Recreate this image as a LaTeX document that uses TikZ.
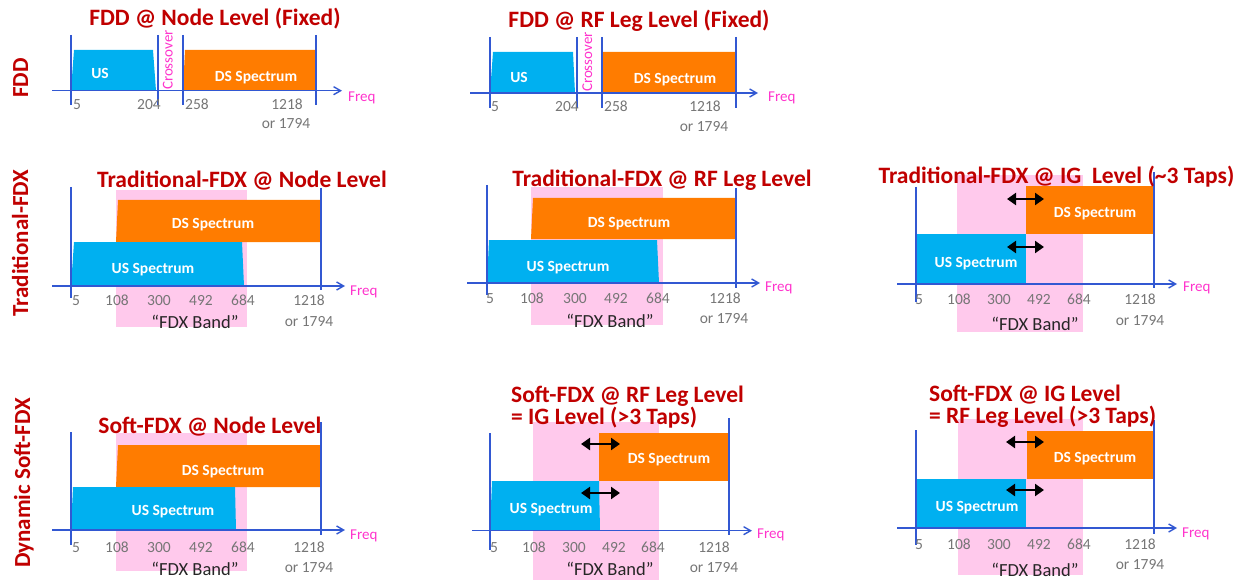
\documentclass[tikz,border=0pt]{standalone}
\usepackage{fontspec}
\setmainfont{Carlito}
\usetikzlibrary{arrows.meta}
\definecolor{ttlred}{RGB}{192,0,0}
\definecolor{axblue}{RGB}{50,88,210}
\definecolor{uscyan}{RGB}{0,176,240}
\definecolor{dsorange}{RGB}{255,124,0}
\definecolor{fdxpink}{RGB}{255,201,236}
\definecolor{tickgray}{RGB}{118,118,118}
\definecolor{freqmag}{RGB}{255,51,204}
\definecolor{fdxtext}{RGB}{38,38,38}
\begin{document}
\begin{tikzpicture}[x=1pt,y=-1pt,
  axisln/.style={axblue,line width=1.4pt,-{Straight Barb[length=7pt,width=8pt,line width=1.4pt]}},
  vline/.style={axblue,line width=1.4pt},
  usbox/.style={fill=uscyan},
  dsbox/.style={fill=dsorange},
  band/.style={fill=fdxpink},
  ttl/.style={font=\fontsize{23.5}{26}\selectfont\bfseries,text=ttlred,anchor=base,inner sep=0pt},
  ttl2/.style={font=\fontsize{23.5}{22}\selectfont\bfseries,text=ttlred,align=left,anchor=base west,inner sep=0pt},
  rowlbl/.style={font=\fontsize{23}{26}\selectfont\bfseries,text=ttlred,anchor=base,inner sep=0pt,rotate=90},
  tick/.style={font=\fontsize{15.5}{18}\selectfont,text=tickgray,anchor=base,inner sep=0pt},
  frq/.style={font=\fontsize{15}{18}\selectfont,text=freqmag,anchor=base west,inner sep=0pt},
  boxt/.style={font=\fontsize{15.5}{18}\selectfont\bfseries,text=white,anchor=base,inner sep=0pt},
  xover/.style={font=\fontsize{15}{18}\selectfont,text=freqmag,anchor=base,rotate=90,inner sep=0pt},
  fdxb/.style={font=\fontsize{18.5}{22}\selectfont,text=fdxtext,anchor=base,inner sep=0pt},
  dbl/.style={black,line width=2.6pt,{Triangle[length=9pt,width=12pt]}-{Triangle[length=9pt,width=12pt]}}
]
\useasboundingbox (0,0) rectangle (1244,580);

% ---------------- row labels ----------------
\node[rowlbl] (rowfdd) at (28,78) {FDD};
\node[rowlbl] (rowtrad) at (28,243) {Traditional-FDX};
\node[rowlbl] (rowsoft) at (30,483) {Dynamic Soft-FDX};

% ---------------- Panel 1: FDD @ Node ----------------
\fill[usbox] (71,90.7) -- (74,50) -- (153,50) -- (156,90.7) -- cycle;
\fill[dsbox] (183,90.7) -- (185,50) -- (315,50) -- (316,90.7) -- cycle;
\foreach \x [count=\i] in {71,158,183,316} {
  \coordinate (p1v\i a) at (\x,35); \coordinate (p1v\i b) at (\x,105);
  \draw[vline] (p1v\i a) -- (p1v\i b);}
\coordinate (p1a0) at (52,90.7); \coordinate (p1a1) at (342,90.7);
\draw[axisln] (p1a0) -- (p1a1);
\node[ttl] (p1title) at (215,26) {FDD @ Node Level (Fixed)};
\node[frq] (p1freq) at (348,102) {Freq};
\node[boxt] (p1us) at (100,79) {US};
\node[boxt] (p1ds) at (256,82) {DS Spectrum};
\node[xover] (p1x) at (172.5,60) {Crossover};
\foreach \v/\x [count=\i] in {5/77,204/149,258/197,1218/287} \node[tick] (p1t\i) at (\x,110) {\v};
\node[tick] (p1or) at (286,129) {or 1794};

% ---------------- Panel 2: FDD @ RF Leg ----------------
\fill[usbox] (490,93) -- (493,52) -- (573,52) -- (575,93) -- cycle;
\fill[dsbox] (601,93) -- (603,52) -- (735,52) -- (736,93) -- cycle;
\foreach \x [count=\i] in {490,577,602,736} {
  \coordinate (p2v\i a) at (\x,37); \coordinate (p2v\i b) at (\x,108);
  \draw[vline] (p2v\i a) -- (p2v\i b);}
\coordinate (p2a0) at (470,93); \coordinate (p2a1) at (758,93);
\draw[axisln] (p2a0) -- (p2a1);
\node[ttl] (p2title) at (639,28) {FDD @ RF Leg Level (Fixed)};
\node[frq] (p2freq) at (768,102) {Freq};
\node[boxt] (p2us) at (519,83) {US};
\node[boxt] (p2ds) at (675,84) {DS Spectrum};
\node[xover] (p2x) at (592,62) {Crossover};
\foreach \v/\x [count=\i] in {5/495,204/567,258/616,1218/705} \node[tick] (p2t\i) at (\x,112) {\v};
\node[tick] (p2or) at (704,131.5) {or 1794};

% ---------------- Panel 3: Traditional-FDX @ Node ----------------
\fill[band] (116,190) rectangle (247,327);
\fill[dsbox] (116,242) -- (118,200) -- (320,200) -- (321,242) -- cycle;
\fill[usbox] (71,286) -- (74,242) -- (242,242) -- (244,286) -- cycle;
\coordinate (p3l0) at (71,187); \coordinate (p3l1) at (71,298);
\coordinate (p3r0) at (321,188); \coordinate (p3r1) at (321,290);
\draw[vline] (p3l0) -- (p3l1); \draw[vline] (p3r0) -- (p3r1);
\coordinate (p3a0) at (52,286); \coordinate (p3a1) at (345,286);
\draw[axisln] (p3a0) -- (p3a1);
\node[ttl] (p3title) at (242,188) {Traditional-FDX @ Node Level};
\node[frq] (p3freq) at (350,295) {Freq};
\node[boxt] (p3ds) at (213,229) {DS Spectrum};
\node[boxt] (p3us) at (153,273) {US Spectrum};
\foreach \v/\x [count=\i] in {5/76,108/117,300/159,492/201,684/243,1218/309} \node[tick] (p3t\i) at (\x,305) {\v};
\node[tick] (p3or) at (309,326) {or 1794};
\node[fdxb] (p3band) at (195,328) {“FDX Band”};

% ---------------- Panel 4: Traditional-FDX @ RF Leg ----------------
\fill[band] (531,187) rectangle (663,325);
\fill[dsbox] (531,239) -- (533,198) -- (735,198) -- (736,239) -- cycle;
\fill[usbox] (487,283) -- (489,240) -- (657,240) -- (659,283) -- cycle;
\coordinate (p4l0) at (487,185); \coordinate (p4l1) at (487,295);
\coordinate (p4r0) at (736,188); \coordinate (p4r1) at (736,288);
\draw[vline] (p4l0) -- (p4l1); \draw[vline] (p4r0) -- (p4r1);
\coordinate (p4a0) at (467,283); \coordinate (p4a1) at (760,283);
\draw[axisln] (p4a0) -- (p4a1);
\node[ttl] (p4title) at (662,187) {Traditional-FDX @ RF Leg Level};
\node[frq] (p4freq) at (765,291) {Freq};
\node[boxt] (p4ds) at (629,227) {DS Spectrum};
\node[boxt] (p4us) at (568,271) {US Spectrum};
\foreach \v/\x [count=\i] in {5/490,108/532,300/575,492/616,684/658,1218/725} \node[tick] (p4t\i) at (\x,303) {\v};
\node[tick] (p4or) at (724,323) {or 1794};
\node[fdxb] (p4band) at (610,327) {“FDX Band”};

% ---------------- Panel 5: Traditional-FDX @ IG ----------------
\fill[band] (957,175) rectangle (1083,332);
\fill[dsbox] (1026,186) rectangle (1154,233.5);
\fill[usbox] (916,233.5) rectangle (1026,284);
\coordinate (p5l0) at (916,187); \coordinate (p5l1) at (916,302);
\coordinate (p5r0) at (1154,172); \coordinate (p5r1) at (1154,288);
\draw[vline] (p5l0) -- (p5l1); \draw[vline] (p5r0) -- (p5r1);
\coordinate (p5a0) at (897,284); \coordinate (p5a1) at (1177,284);
\draw[axisln] (p5a0) -- (p5a1);
\coordinate (p5u0) at (1007,199); \coordinate (p5u1) at (1044,199);
\coordinate (p5d0) at (1007,247); \coordinate (p5d1) at (1044,247);
\draw[dbl] (p5u0) -- (p5u1); \draw[dbl] (p5d0) -- (p5d1);
\node[ttl] (p5title) at (1056.5,183) {Traditional-FDX @ IG\ \ Level (\textasciitilde3 Taps)};
\node[frq] (p5freq) at (1183,291) {Freq};
\node[boxt] (p5ds) at (1095,217) {DS Spectrum};
\node[boxt] (p5us) at (976,267) {US Spectrum};
\foreach \v/\x [count=\i] in {5/919,108/959,300/999,492/1039,684/1079,1218/1140} \node[tick] (p5t\i) at (\x,304) {\v};
\node[tick] (p5or) at (1140,325) {or 1794};
\node[fdxb] (p5band) at (1035,330) {“FDX Band”};

% ---------------- Panel 6: Soft-FDX @ Node ----------------
\fill[band] (116,433) rectangle (247,571);
\fill[dsbox] (116,487) -- (118,445) -- (320,445) -- (321,487) -- cycle;
\fill[usbox] (71,530) -- (73,487) -- (235,487) -- (236,530) -- cycle;
\coordinate (p6l0) at (71,432); \coordinate (p6l1) at (71,545);
\coordinate (p6r0) at (321,422); \coordinate (p6r1) at (321,535);
\draw[vline] (p6l0) -- (p6l1); \draw[vline] (p6r0) -- (p6r1);
\coordinate (p6a0) at (52,530); \coordinate (p6a1) at (345,530);
\draw[axisln] (p6a0) -- (p6a1);
\node[ttl] (p6title) at (210,433) {Soft-FDX @ Node Level};
\node[frq] (p6freq) at (350,539) {Freq};
\node[boxt] (p6ds) at (223,475) {DS Spectrum};
\node[boxt] (p6us) at (173,515) {US Spectrum};
\foreach \v/\x [count=\i] in {5/76,108/117,300/159,492/201,684/243,1218/309} \node[tick] (p6t\i) at (\x,552) {\v};
\node[tick] (p6or) at (309,572) {or 1794};
\node[fdxb] (p6band) at (195,575) {“FDX Band”};

% ---------------- Panel 7: Soft-FDX @ RF Leg ----------------
\fill[band] (533,422) rectangle (659,580);
\fill[dsbox] (599,433) rectangle (728,481);
\fill[usbox] (490,530.7) -- (492,481) -- (599,481) -- (600,530.7) -- cycle;
\coordinate (p7l0) at (490,433); \coordinate (p7l1) at (490,550);
\coordinate (p7r0) at (729,418); \coordinate (p7r1) at (729,535);
\draw[vline] (p7l0) -- (p7l1); \draw[vline] (p7r0) -- (p7r1);
\coordinate (p7a0) at (472,530.7); \coordinate (p7a1) at (752,530.7);
\draw[axisln] (p7a0) -- (p7a1);
\coordinate (p7u0) at (581,444); \coordinate (p7u1) at (620,444);
\coordinate (p7d0) at (581,493); \coordinate (p7d1) at (620,493);
\draw[dbl] (p7u0) -- (p7u1); \draw[dbl] (p7d0) -- (p7d1);
\node[ttl2] (p7title) at (511,424) {Soft-FDX @ RF Leg Level\\= IG Level (>3 Taps)};
\node[frq] (p7freq) at (757,538) {Freq};
\node[boxt] (p7ds) at (669,463) {DS Spectrum};
\node[boxt] (p7us) at (551,513) {US Spectrum};
\foreach \v/\x [count=\i] in {5/494,108/534,300/574,492/614,684/653,1218/714} \node[tick] (p7t\i) at (\x,552) {\v};
\node[tick] (p7or) at (714,572) {or 1794};
\node[fdxb] (p7band) at (610,575.5) {“FDX Band”};

% ---------------- Panel 8: Soft-FDX @ IG ----------------
\fill[band] (958,419) rectangle (1083,575);
\fill[dsbox] (1027,431) rectangle (1153,478.5);
\fill[usbox] (916,478.5) rectangle (1026,528);
\coordinate (p8l0) at (916,430); \coordinate (p8l1) at (916,545);
\coordinate (p8r0) at (1154,420); \coordinate (p8r1) at (1154,534);
\draw[vline] (p8l0) -- (p8l1); \draw[vline] (p8r0) -- (p8r1);
\coordinate (p8a0) at (897,528); \coordinate (p8a1) at (1177,528);
\draw[axisln] (p8a0) -- (p8a1);
\coordinate (p8u0) at (1006,442); \coordinate (p8u1) at (1044,442);
\coordinate (p8d0) at (1006,490); \coordinate (p8d1) at (1044,490);
\draw[dbl] (p8u0) -- (p8u1); \draw[dbl] (p8d0) -- (p8d1);
\node[ttl2] (p8title) at (929,423.5) {Soft-FDX @ IG Level\\= RF Leg Level (>3 Taps)};
\node[frq] (p8freq) at (1182,537) {Freq};
\node[boxt] (p8ds) at (1095,462) {DS Spectrum};
\node[boxt] (p8us) at (977,511) {US Spectrum};
\foreach \v/\x [count=\i] in {5/919,108/959,300/999,492/1039,684/1079,1218/1140} \node[tick] (p8t\i) at (\x,549) {\v};
\node[tick] (p8or) at (1140,569) {or 1794};
\node[fdxb] (p8band) at (1035,576) {“FDX Band”};
\end{tikzpicture}
\end{document}
